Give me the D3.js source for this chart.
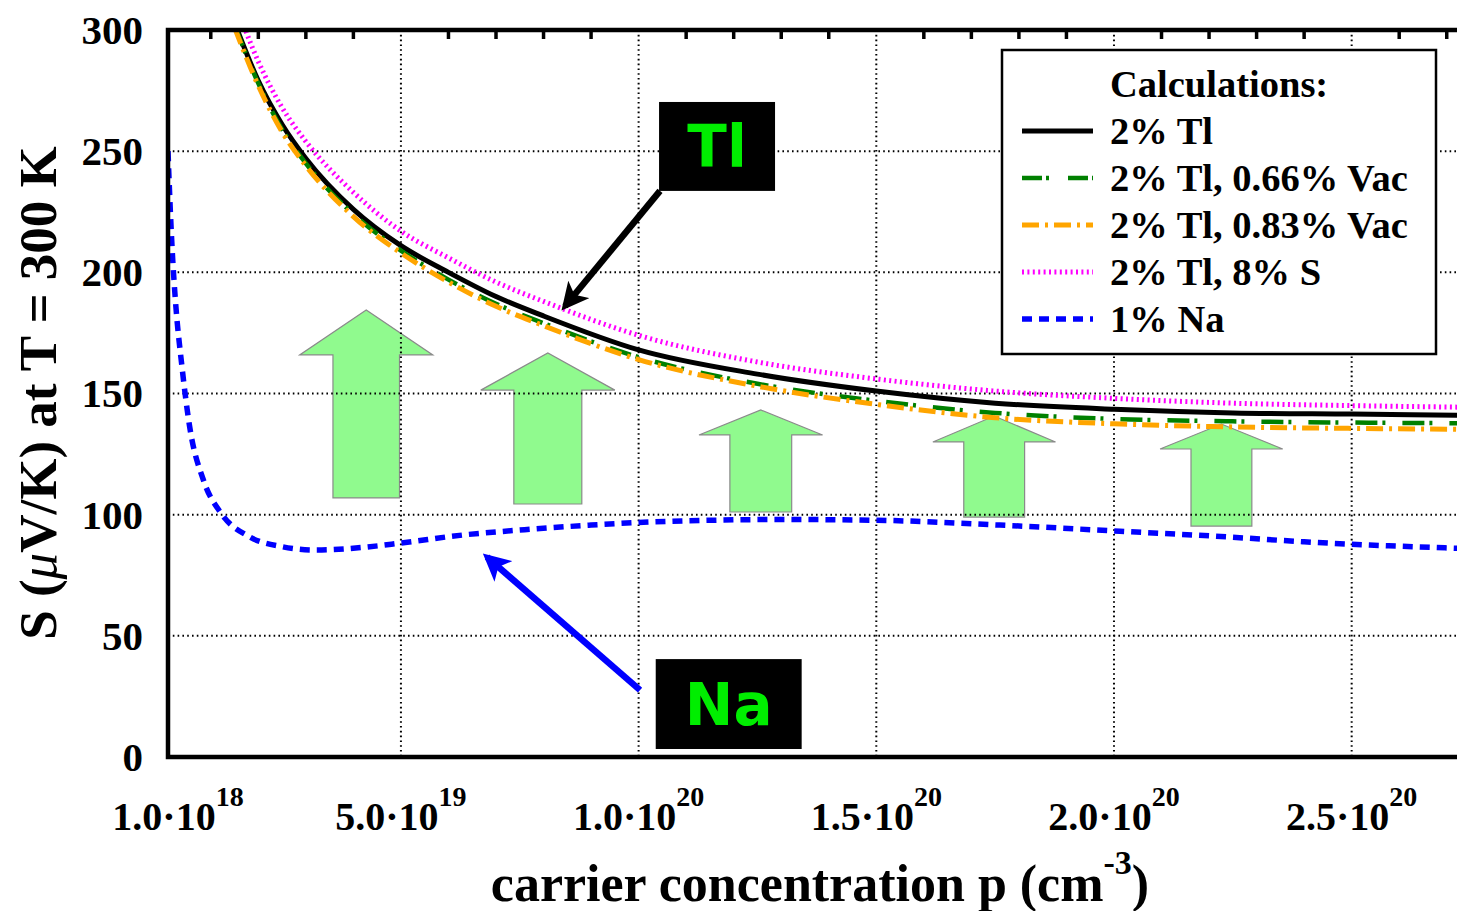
<!DOCTYPE html>
<html>
<head>
<meta charset="utf-8">
<script src="https://cdn.jsdelivr.net/npm/d3@7"></script>
<style>
  body { margin: 0; background: #fff; }
  svg { display: block; }
  text { font-family: "Liberation Serif", "Times New Roman", serif; font-weight: bold; fill: #000; }
</style>
</head>
<body>
<svg id="chart" width="1457" height="911"></svg>
<script>
// carrier concentration in units of 1e19 cm^-3
const pTl = [1.5, 2, 2.5, 3, 4, 5, 6, 7, 8, 10, 12.5, 15, 17.5, 20, 22.5, 25, 27.5];
const sTl      = [303, 279, 261, 247, 226, 211, 200, 190, 182, 168, 158, 151, 146, 143.5, 142, 141.5, 141];
const sTlVac66 = [302, 278, 259, 245, 224, 209, 197, 187, 179, 165, 154, 147, 142, 139.5, 138.5, 138, 137.7];
const sTlVac83 = [301, 277, 258, 244, 223, 208, 196, 186, 178, 164, 153, 145.5, 140, 137.5, 136.2, 135.6, 135.2];
const sTlS8    = [312, 287, 268, 254, 233, 217, 206, 196, 188, 174, 163, 156, 151, 148, 146, 145, 144.3];

const pNa = [0.1, 0.15, 0.2, 0.25, 0.4, 0.55, 0.85, 1.2, 1.8, 2.5, 3.2, 4.2, 5, 6.3, 7.6, 9, 10.3, 13, 15, 17.6, 20, 22.4, 24, 27.4];
const sNa = [250, 225, 205, 190, 160, 137, 114, 101, 91, 86.8, 85.4, 86.5, 88.3, 91.6, 93.8, 95.7, 97, 98, 97.7, 95.7, 93.3, 90.8, 88.8, 86];

const xTickVals = [0.1, 5, 10, 15, 20, 25];
const xTickMant = ["1.0", "5.0", "1.0", "1.5", "2.0", "2.5"];
const xTickExp  = ["18", "19", "20", "20", "20", "20"];
const yTickVals = [0, 50, 100, 150, 200, 250, 300];

const seriesNames = ["2% Tl", "2% Tl, 0.66% Vac", "2% Tl, 0.83% Vac", "2% Tl, 8% S", "1% Na"];

// green "enhancement" arrows: centre p, tip S, head base S, bottom S, half widths in p
const upArrows = [
  { p: 4.27,  tip: 184.5, base: 165.9, bottom: 106.9, shaft: 0.70, head: 1.40 },
  { p: 8.09,  tip: 166.7, base: 151.4, bottom: 104.4, shaft: 0.715, head: 1.41 },
  { p: 12.57, tip: 143.2, base: 132.9, bottom: 101.1, shaft: 0.65, head: 1.30 },
  { p: 17.48, tip: 140.7, base: 130.0, bottom: 99.0,  shaft: 0.64, head: 1.29 },
  { p: 22.26, tip: 137.4, base: 127.1, bottom: 95.3,  shaft: 0.64, head: 1.29 }
];

// label boxes and pointers
const labels = [
  { text: "Tl", p0: 10.43, p1: 12.87, s0: 233.6, s1: 270.3, from: [10.45, 233.6], to: [8.45, 186.0], color: "#000" },
  { text: "Na", p0: 10.36, p1: 13.43, s0: 3.3, s1: 40.4, from: [10.03, 27.6], to: [6.81, 82.5], color: "#0000ff" }
];

const svg = d3.select("#chart");
const margin = { top: 30, right: 0, bottom: 154, left: 168 };
const W = 1457, H = 911;
const plotR = 1461;

const x = d3.scaleLinear().domain([0.1, 27.3]).range([margin.left, plotR]);
const y = d3.scaleLinear().domain([0, 300]).range([H - margin.bottom, margin.top]);

svg.append("rect").attr("width", W).attr("height", H).attr("fill", "#fff");

const defs = svg.append("defs");
defs.append("clipPath").attr("id", "plotclip")
  .append("rect")
  .attr("x", x(0.1)).attr("y", y(300))
  .attr("width", plotR - x(0.1)).attr("height", y(0) - y(300));

["#000", "#0000ff"].forEach((c, i) => {
  defs.append("marker")
    .attr("id", "head" + i)
    .attr("viewBox", "0 0 10 10")
    .attr("refX", 8).attr("refY", 5)
    .attr("markerWidth", 4.2).attr("markerHeight", 4.2)
    .attr("orient", "auto")
    .attr("markerUnits", "strokeWidth")
    .append("path")
    .attr("d", "M0,0 L10,5 L0,10 L2.5,5 Z")
    .attr("fill", c);
});

// Block arrows (under the grid)
const arrowG = svg.append("g");
upArrows.forEach(a => {
  const pts = [
    [x(a.p - a.shaft), y(a.bottom)],
    [x(a.p - a.shaft), y(a.base)],
    [x(a.p - a.head), y(a.base)],
    [x(a.p), y(a.tip)],
    [x(a.p + a.head), y(a.base)],
    [x(a.p + a.shaft), y(a.base)],
    [x(a.p + a.shaft), y(a.bottom)]
  ];
  arrowG.append("path")
    .attr("d", "M" + pts.join("L") + "Z")
    .attr("fill", "#90fa8e")
    .attr("stroke", "#8a8a8a")
    .attr("stroke-width", 1.2);
});

// Grid
const grid = svg.append("g").attr("stroke", "#000").attr("stroke-width", 2)
  .attr("stroke-dasharray", "1.6,3.2");
[5, 10, 15, 20, 25].forEach(v => {
  grid.append("line").attr("x1", x(v)).attr("x2", x(v)).attr("y1", y(300)).attr("y2", y(0));
});
[50, 100, 150, 200, 250].forEach(v => {
  grid.append("line").attr("x1", x(0.1)).attr("x2", plotR).attr("y1", y(v)).attr("y2", y(v));
});

// Top minor ticks every 1e19
const tickG = svg.append("g");
d3.range(1, 28).filter(v => v % 5 !== 0).forEach(v => {
  tickG.append("line")
    .attr("x1", x(v)).attr("x2", x(v))
    .attr("y1", y(300)).attr("y2", y(300) + 9)
    .attr("stroke", "#000").attr("stroke-width", 3.5);
});

// Curves
const line = d3.line().x(d => x(d[0])).y(d => y(d[1])).curve(d3.curveMonotoneX);
const curves = [
  { p: pTl, s: sTl,      color: "#000000", width: 5,   dash: null },
  { p: pTl, s: sTlVac66, color: "#008000", width: 4.5, dash: "22,5,3,17" },
  { p: pTl, s: sTlVac83, color: "#ffa500", width: 5,   dash: "17,6,3,6" },
  { p: pTl, s: sTlS8,    color: "#ff00ff", width: 5,   dash: "2,3.4" },
  { p: pNa, s: sNa,      color: "#0000ff", width: 5.5, dash: "10,7" }
];
const curveG = svg.append("g").attr("clip-path", "url(#plotclip)");
curves.forEach(c => {
  curveG.append("path")
    .datum(c.p.map((v, i) => [v, c.s[i]]))
    .attr("fill", "none")
    .attr("stroke", c.color)
    .attr("stroke-width", c.width)
    .attr("stroke-dasharray", c.dash)
    .attr("d", line);
});

// Axes frame (left, bottom, top)
const frame = svg.append("g").attr("stroke", "#000").attr("fill", "none");
frame.append("path")
  .attr("d", `M${plotR},${y(300)}H${x(0.1)}V${y(0)}H${plotR}`)
  .attr("stroke-width", 4.5);

// Y tick labels
svg.append("g").selectAll("text")
  .data(yTickVals)
  .join("text")
  .attr("x", 143)
  .attr("y", d => y(d))
  .attr("dy", "0.34em")
  .attr("text-anchor", "end")
  .attr("font-size", 41)
  .text(d => d);

// X tick labels with superscript exponents
const xl = svg.append("g").selectAll("text")
  .data(xTickVals)
  .join("text")
  .attr("x", d => x(d) + (d === 0.1 ? 10 : 0))
  .attr("y", 830)
  .attr("text-anchor", "middle")
  .attr("font-size", 40);
xl.append("tspan").text((d, i) => xTickMant[i] + "\u00b710");
xl.append("tspan").attr("dy", -24).attr("font-size", 28).text((d, i) => xTickExp[i]);

// Axis titles
const xt = svg.append("text")
  .attr("x", 820).attr("y", 901)
  .attr("text-anchor", "middle")
  .attr("font-size", 52);
xt.append("tspan").text("carrier concentration p (cm");
xt.append("tspan").attr("dy", -27).attr("font-size", 34).text("-3");
xt.append("tspan").attr("dy", 27).text(")");

const yt = svg.append("text")
  .attr("transform", "translate(56,393) rotate(-90)")
  .attr("text-anchor", "middle")
  .attr("font-size", 53);
yt.append("tspan").text("S (");
yt.append("tspan").attr("font-style", "italic").attr("font-weight", "normal").text("\u03bc");
yt.append("tspan").text("V/K) at T = 300 K");

// Annotation label boxes and arrows
labels.forEach((l, i) => {
  svg.append("line")
    .attr("x1", x(l.from[0])).attr("y1", y(l.from[1]))
    .attr("x2", x(l.to[0])).attr("y2", y(l.to[1]))
    .attr("stroke", l.color)
    .attr("stroke-width", 6.5)
    .attr("marker-end", `url(#head${i})`);
  svg.append("rect")
    .attr("x", x(l.p0)).attr("y", y(l.s1))
    .attr("width", x(l.p1) - x(l.p0)).attr("height", y(l.s0) - y(l.s1))
    .attr("fill", "#000");
  svg.append("text")
    .attr("x", (x(l.p0) + x(l.p1)) / 2)
    .attr("y", (y(l.s0) + y(l.s1)) / 2)
    .attr("dy", "0.36em")
    .attr("text-anchor", "middle")
    .attr("font-size", 58)
    .style("font-family", "'DejaVu Sans', sans-serif")
    .style("fill", "#00ee00")
    .text(l.text);
});

// Legend
const lg = svg.append("g").attr("transform", "translate(1002,50)");
lg.append("rect")
  .attr("width", 434).attr("height", 304)
  .attr("fill", "#fff").attr("stroke", "#000").attr("stroke-width", 2.5);
lg.append("text").attr("x", 108).attr("y", 47).attr("font-size", 38.5).text("Calculations:");
seriesNames.forEach((name, i) => {
  const c = curves[i];
  const ly = 81 + i * 47;
  lg.append("line")
    .attr("x1", 20).attr("x2", 91).attr("y1", ly).attr("y2", ly)
    .attr("stroke", c.color).attr("stroke-width", c.width)
    .attr("stroke-dasharray", i === 1 ? "20,4,3,19" : c.dash);
  lg.append("text")
    .attr("x", 108).attr("y", ly + 13)
    .attr("font-size", 38.5)
    .attr("xml:space", "preserve")
    .text(name);
});
</script>
</body>
</html>
